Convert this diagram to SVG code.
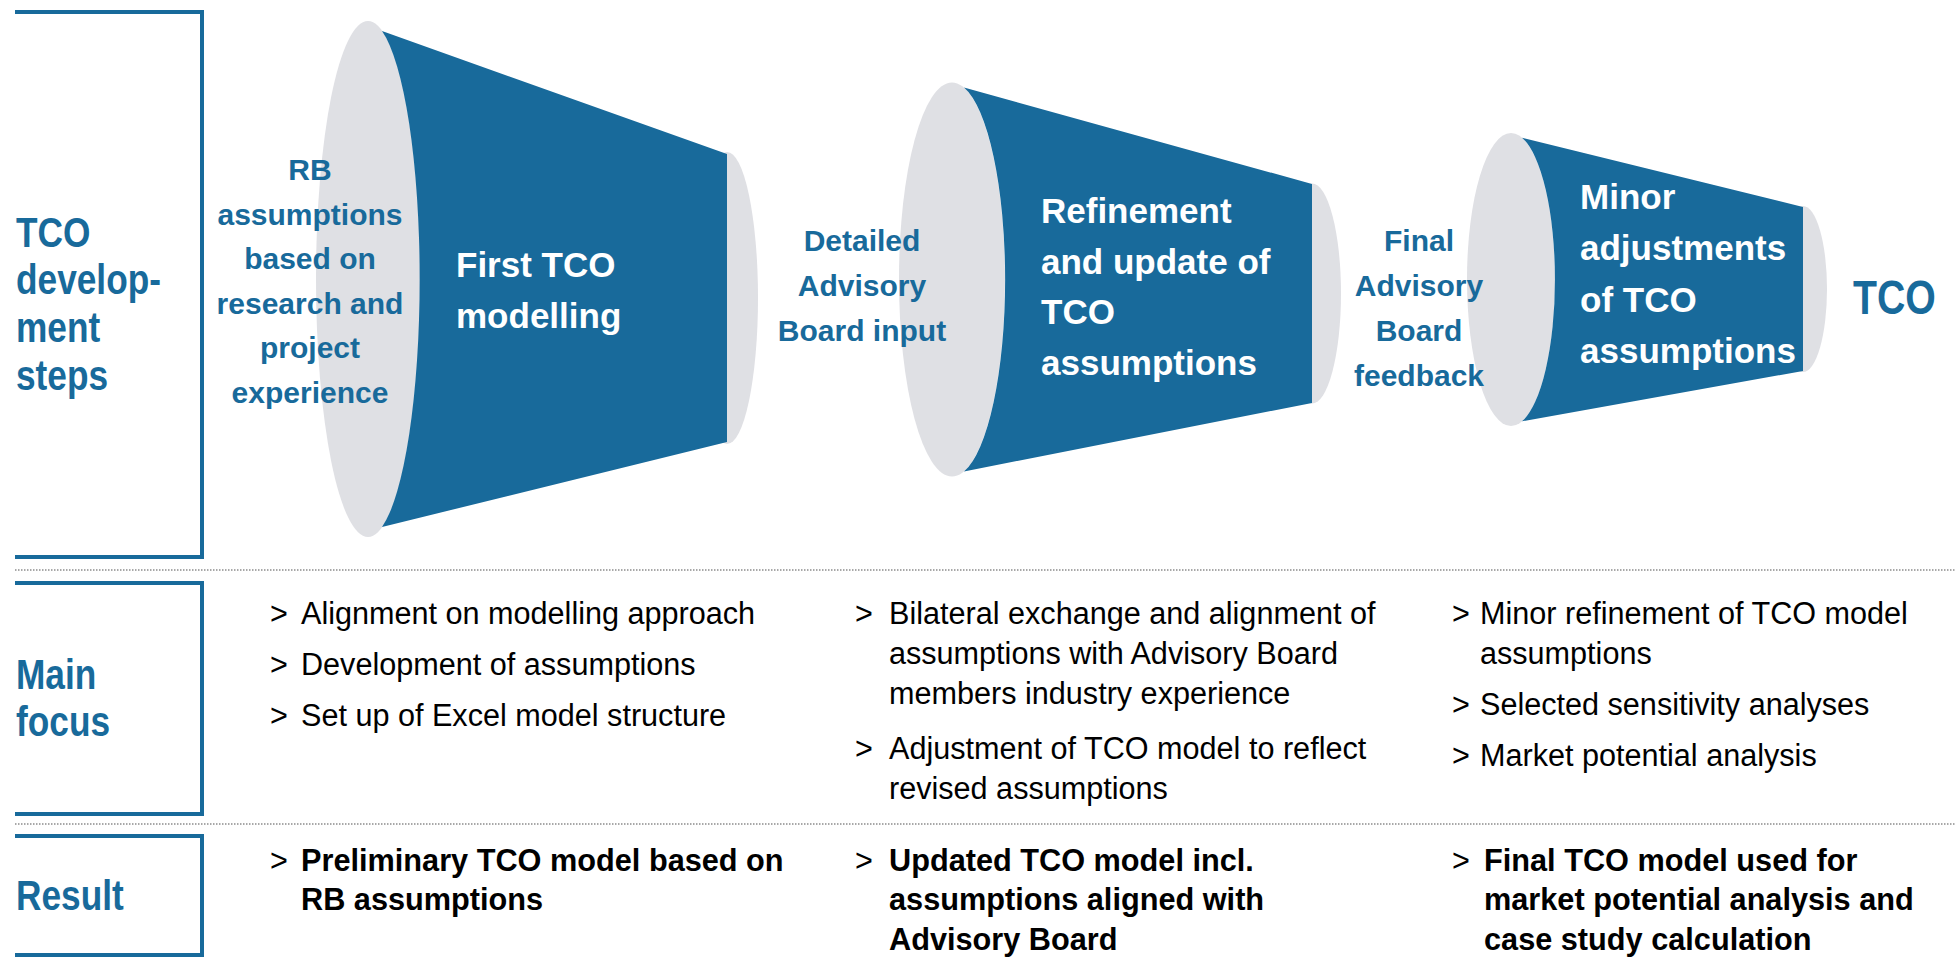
<svg xmlns="http://www.w3.org/2000/svg" width="1955" height="957" viewBox="0 0 1955 957">
<style>
text{font-family:"Liberation Sans",Arial,sans-serif}
.lbl{font-size:43px;font-weight:bold;fill:#186a9b}
.side{font-size:30px;font-weight:bold;fill:#186a9b;text-anchor:middle}
.title{font-size:35px;font-weight:bold;fill:#ffffff}
.body{font-size:30.6px;fill:#000}
.res{font-size:30.7px;font-weight:bold;fill:#000}
.br{fill:none;stroke:#186a9b;stroke-width:4}
.sep{fill:none;stroke:#8c8c8c;stroke-width:1.5;stroke-dasharray:1.5 1.5}
.gray{fill:#dfe0e4}
.blue{fill:#186a9b}
</style>
<rect width="1955" height="957" fill="#ffffff"/>
<g id="separators">
<path class="sep" d="M15,570H1955"/>
<path class="sep" d="M15,824H1955"/>
</g>
<g id="row-labels">
<path class="br" d="M15,12H202V557H15"/>
<path class="br" d="M15,583H202V814H15"/>
<path class="br" d="M15,836H202V955H15"/>
<text class="lbl" transform="translate(16,0) scale(0.82,1)"><tspan x="0" y="246.7">TCO</tspan><tspan x="0" y="294.5">develop-</tspan><tspan x="0" y="342.5">ment</tspan><tspan x="0" y="390">steps</tspan></text>
<text class="lbl" transform="translate(16,0) scale(0.82,1)"><tspan x="0" y="689">Main</tspan><tspan x="0" y="736">focus</tspan></text>
<text class="lbl" transform="translate(16,0) scale(0.82,1)"><tspan x="0" y="910">Result</tspan></text>
</g>
<g id="funnel1">
<ellipse class="gray" cx="727" cy="298" rx="31" ry="146"/>
<ellipse class="gray" cx="368" cy="279" rx="52" ry="258"/>
<path class="blue" d="M382,31L727,154L727,442L382,527A52,258 0 0 0 382,31Z"/>
<text class="title"><tspan x="456" y="277">First TCO</tspan><tspan x="456" y="328">modelling</tspan></text>
</g>
<g id="funnel2">
<ellipse class="gray" cx="1312" cy="293.5" rx="29" ry="110"/>
<ellipse class="gray" cx="952" cy="279.5" rx="53" ry="197"/>
<path class="blue" d="M964,87.5L1312,184L1312,403L964,471.5A53,197 0 0 0 964,87.5Z"/>
<text class="title"><tspan x="1041" y="223">Refinement</tspan><tspan x="1041" y="274">and update of</tspan><tspan x="1041" y="324">TCO</tspan><tspan x="1041" y="375">assumptions</tspan></text>
</g>
<g id="funnel3">
<ellipse class="gray" cx="1803" cy="289" rx="24" ry="83"/>
<ellipse class="gray" cx="1511" cy="279.5" rx="44" ry="146.5"/>
<path class="blue" d="M1522,137.7L1803,207L1803,371L1522,421.3A44,146.5 0 0 0 1522,137.7Z"/>
<text class="title"><tspan x="1580" y="209">Minor</tspan><tspan x="1580" y="260">adjustments</tspan><tspan x="1580" y="312">of TCO</tspan><tspan x="1580" y="363">assumptions</tspan></text>
</g>
<g id="input-rb">
<text class="side"><tspan x="310" y="180">RB</tspan><tspan x="310" y="224.6">assumptions</tspan><tspan x="310" y="269.2">based on</tspan><tspan x="310" y="313.8">research and</tspan><tspan x="310" y="358.4">project</tspan><tspan x="310" y="403">experience</tspan></text>
</g>
<g id="input-advisory">
<text class="side"><tspan x="862" y="251">Detailed</tspan><tspan x="862" y="296">Advisory</tspan><tspan x="862" y="341">Board input</tspan></text>
</g>
<g id="input-feedback">
<text class="side"><tspan x="1419" y="251">Final</tspan><tspan x="1419" y="296">Advisory</tspan><tspan x="1419" y="341">Board</tspan><tspan x="1419" y="386">feedback</tspan></text>
</g>
<g id="output-tco">
<text class="lbl" style="font-size:49px" transform="translate(1853,0) scale(0.8,1)"><tspan x="0" y="314">TCO</tspan></text>
</g>
<g id="focus1">
<text class="body" x="270" y="624">&gt;</text><text class="body" x="301" y="624">Alignment on modelling approach</text>
<text class="body" x="270" y="675">&gt;</text><text class="body" x="301" y="675">Development of assumptions</text>
<text class="body" x="270" y="726">&gt;</text><text class="body" x="301" y="726">Set up of Excel model structure</text>
</g>
<g id="focus2">
<text class="body" x="855" y="624">&gt;</text><text class="body"><tspan x="889" y="624">Bilateral exchange and alignment of</tspan><tspan x="889" y="664">assumptions with Advisory Board</tspan><tspan x="889" y="704">members industry experience</tspan></text>
<text class="body" x="855" y="759">&gt;</text><text class="body"><tspan x="889" y="759">Adjustment of TCO model to reflect</tspan><tspan x="889" y="799">revised assumptions</tspan></text>
</g>
<g id="focus3">
<text class="body" x="1452" y="624">&gt;</text><text class="body"><tspan x="1480" y="624">Minor refinement of TCO model</tspan><tspan x="1480" y="664">assumptions</tspan></text>
<text class="body" x="1452" y="715">&gt;</text><text class="body" x="1480" y="715">Selected sensitivity analyses</text>
<text class="body" x="1452" y="766">&gt;</text><text class="body" x="1480" y="766">Market potential analysis</text>
</g>
<g id="result1">
<text class="body" x="270" y="871">&gt;</text><text class="res"><tspan x="301" y="871">Preliminary TCO model based on</tspan><tspan x="301" y="910">RB assumptions</tspan></text>
</g>
<g id="result2">
<text class="body" x="855" y="871">&gt;</text><text class="res"><tspan x="889" y="871">Updated TCO model incl.</tspan><tspan x="889" y="910">assumptions aligned with</tspan><tspan x="889" y="950">Advisory Board</tspan></text>
</g>
<g id="result3">
<text class="body" x="1452" y="871">&gt;</text><text class="res"><tspan x="1484" y="871">Final TCO model used for</tspan><tspan x="1484" y="910">market potential analysis and</tspan><tspan x="1484" y="950">case study calculation</tspan></text>
</g>
<g id="connectors"/>
</svg>
